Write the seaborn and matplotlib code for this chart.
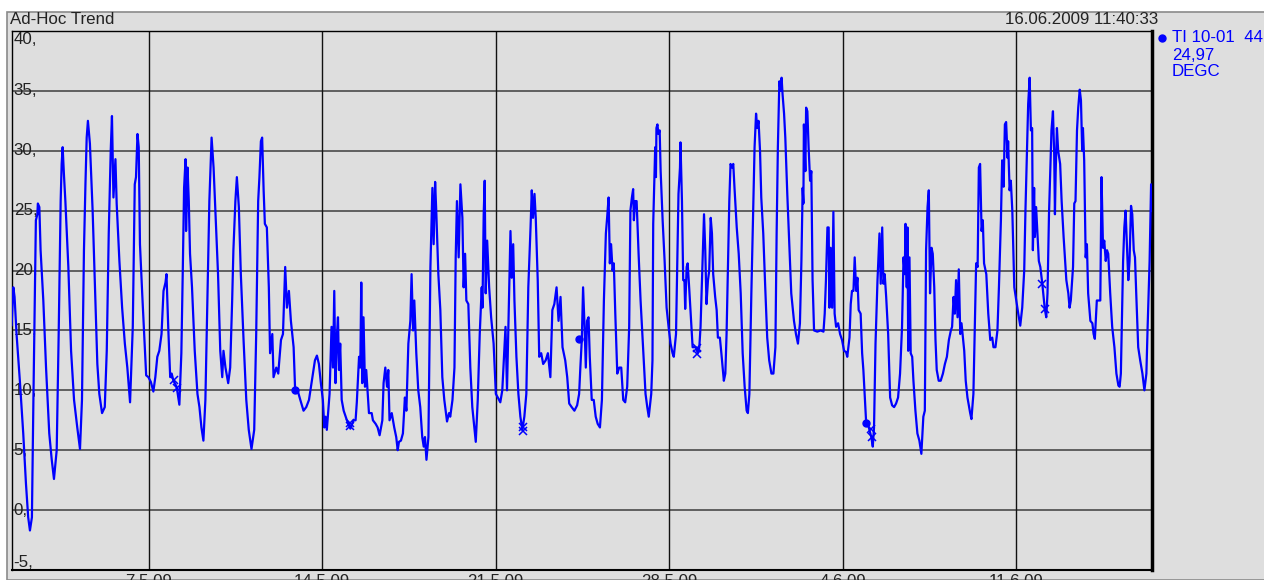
import numpy as np
import pandas as pd
import seaborn as sns
from matplotlib import pyplot as plt
import matplotlib.patches as mpatches

# Trend data: time as days since 2009-05-01 00:00, temperature in DEGC
days = [0.47, 0.54, 0.59, 0.67, 0.81, 0.94, 1.05, 1.14, 1.21, 1.29, 1.35, 1.40, 1.45, 1.51, 1.53, 1.59, 1.64, 1.75, 1.86, 1.99,
        2.09, 2.18, 2.29, 2.37, 2.45, 2.49, 2.53, 2.58, 2.64, 2.76, 2.87, 2.99, 3.12, 3.23, 3.31, 3.39, 3.45, 3.50, 3.55, 3.63,
        3.74, 3.85, 3.93, 4.01, 4.12, 4.23, 4.31, 4.39, 4.47, 4.52, 4.58, 4.66, 4.71, 4.82, 4.93, 5.04, 5.14, 5.25, 5.36, 5.44,
        5.49, 5.55, 5.60, 5.65, 5.74, 5.82, 5.90, 5.99, 6.09, 6.19, 6.27, 6.35, 6.43, 6.52, 6.60, 6.68, 6.72, 6.79, 6.87, 6.93,
        7.00, 7.13, 7.24, 7.32, 7.38, 7.43, 7.49, 7.51, 7.57, 7.62, 7.67, 7.75, 7.86, 7.97, 8.05, 8.13, 8.21, 8.29, 8.37, 8.45,
        8.54, 8.62, 8.70, 8.80, 8.89, 8.97, 9.02, 9.10, 9.21, 9.29, 9.37, 9.42, 9.50, 9.56, 9.64, 9.72, 9.83, 9.94, 10.04, 10.15,
        10.26, 10.34, 10.42, 10.47, 10.53, 10.58, 10.64, 10.69, 10.77, 10.85, 10.90, 10.99, 11.04, 11.15, 11.23, 11.34, 11.42, 11.51, 11.58, 11.66,
        11.74, 11.85, 11.91, 12.01, 12.12, 12.25, 12.36, 12.47, 12.55, 12.63, 12.71, 12.79, 12.87, 12.95, 13.03, 13.09, 13.14, 13.19, 13.30, 13.38,
        13.44, 13.49, 13.54, 13.60, 13.64, 13.68, 13.73, 13.79, 13.87, 14.00, 14.14, 14.27, 14.35, 14.40, 14.49, 14.54, 14.58, 14.62, 14.67, 14.73,
        14.78, 14.89, 15.00, 15.05, 15.16, 15.24, 15.32, 15.43, 15.48, 15.55, 15.62, 15.67, 15.72, 15.81, 15.91, 15.99, 16.05, 16.10, 16.18, 16.26,
        16.34, 16.40, 16.48, 16.56, 16.61, 16.67, 16.72, 16.80, 16.88, 16.96, 17.04, 17.10, 17.15, 17.21, 17.29, 17.37, 17.45, 17.50, 17.56, 17.61,
        17.69, 17.77, 17.85, 17.93, 18.04, 18.12, 18.17, 18.26, 18.34, 18.39, 18.44, 18.51, 18.58, 18.66, 18.71, 18.77, 18.82, 18.90, 18.98, 19.06,
        19.20, 19.28, 19.36, 19.44, 19.47, 19.52, 19.56, 19.60, 19.66, 19.74, 19.82, 19.92, 20.01, 20.09, 20.19, 20.27, 20.33, 20.40, 20.46, 20.54,
        20.60, 20.65, 20.71, 20.76, 20.84, 20.92, 21.00, 21.08, 21.16, 21.24, 21.32, 21.41, 21.46, 21.51, 21.57, 21.62, 21.70, 21.76, 21.84, 21.92,
        22.02, 22.11, 22.21, 22.29, 22.37, 22.46, 22.54, 22.62, 22.70, 22.81, 22.89, 22.97, 23.07, 23.18, 23.29, 23.37, 23.42, 23.48, 23.53, 23.59,
        23.64, 23.69, 23.75, 23.80, 23.88, 23.96, 24.04, 24.12, 24.21, 24.29, 24.37, 24.45, 24.50, 24.56, 24.61, 24.66, 24.72, 24.77, 24.83, 24.91,
        24.99, 25.07, 25.15, 25.23, 25.31, 25.39, 25.44, 25.50, 25.55, 25.58, 25.63, 25.69, 25.77, 25.85, 25.98, 26.05, 26.12, 26.18, 26.28, 26.33,
        26.36, 26.41, 26.44, 26.47, 26.49, 26.53, 26.57, 26.62, 26.66, 26.74, 26.82, 26.90, 26.98, 27.06, 27.14, 27.19, 27.28, 27.33, 27.38, 27.44,
        27.46, 27.52, 27.57, 27.62, 27.65, 27.71, 27.75, 27.81, 27.87, 27.95, 28.08, 28.16, 28.22, 28.27, 28.35, 28.41, 28.46, 28.51, 28.57, 28.62,
        28.68, 28.73, 28.78, 28.86, 28.92, 28.97, 29.05, 29.11, 29.16, 29.21, 29.27, 29.32, 29.38, 29.43, 29.48, 29.54, 29.59, 29.64, 29.73, 29.81,
        29.89, 29.97, 30.05, 30.13, 30.18, 30.24, 30.32, 30.40, 30.45, 30.51, 30.56, 30.61, 30.67, 30.72, 30.80, 30.88, 30.96, 31.04, 31.13, 31.21,
        31.29, 31.34, 31.39, 31.45, 31.50, 31.54, 31.58, 31.64, 31.69, 31.77, 31.85, 31.93, 32.04, 32.12, 32.20, 32.28, 32.34, 32.39, 32.42, 32.44,
        32.50, 32.53, 32.58, 32.63, 32.69, 32.74, 32.79, 32.85, 32.98, 33.12, 33.23, 33.28, 33.33, 33.39, 33.44, 33.47, 33.52, 33.58, 33.63, 33.68,
        33.74, 33.82, 33.90, 33.98, 34.06, 34.14, 34.19, 34.28, 34.33, 34.38, 34.44, 34.49, 34.55, 34.60, 34.65, 34.73, 34.79, 34.84, 34.89, 34.95,
        35.06, 35.16, 35.22, 35.27, 35.33, 35.41, 35.49, 35.54, 35.60, 35.65, 35.70, 35.76, 35.84, 35.92, 36.00, 36.08, 36.16, 36.24, 36.32, 36.40,
        36.46, 36.51, 36.54, 36.59, 36.62, 36.65, 36.70, 36.75, 36.81, 36.86, 36.94, 37.02, 37.10, 37.18, 37.26, 37.32, 37.37, 37.43, 37.48, 37.53,
        37.59, 37.64, 37.70, 37.75, 37.80, 37.88, 37.96, 38.05, 38.13, 38.21, 38.29, 38.37, 38.42, 38.48, 38.53, 38.58, 38.64, 38.69, 38.75, 38.80,
        38.91, 38.97, 39.04, 39.15, 39.20, 39.28, 39.34, 39.39, 39.45, 39.50, 39.55, 39.61, 39.66, 39.71, 39.80, 39.88, 39.96, 40.04, 40.09, 40.17,
        40.25, 40.31, 40.39, 40.44, 40.50, 40.55, 40.60, 40.66, 40.68, 40.74, 40.79, 40.85, 40.93, 41.01, 41.09, 41.17, 41.25, 41.33, 41.38, 41.44,
        41.49, 41.55, 41.60, 41.65, 41.68, 41.73, 41.76, 41.81, 41.87, 41.92, 41.98, 42.06, 42.16, 42.22, 42.27, 42.33, 42.38, 42.43, 42.49, 42.54,
        42.57, 42.60, 42.65, 42.70, 42.78, 42.84, 42.92, 43.03, 43.11, 43.16, 43.21, 43.30, 43.35, 43.40, 43.46, 43.51, 43.57, 43.62, 43.67, 43.70,
        43.75, 43.81, 43.86, 43.91, 44.00, 44.08, 44.13, 44.18, 44.26, 44.40, 44.45, 44.51, 44.56, 44.62, 44.67, 44.72, 44.80, 44.88, 44.97, 45.05,
        45.13, 45.18, 45.23, 45.32, 45.37, 45.42, 45.48, 45.53, 45.58, 45.64, 45.69, 45.75, 45.80, 45.85, 45.93, 46.01, 46.10, 46.18, 46.26, 46.31,
        46.39, 46.45, 46.48]
temps = [15.4, 18.6, 17.8, 14.7, 10.6, 6.4, 2.2, -0.6, -1.7, -0.6, 9.2, 16.4, 24.2, 24.7, 25.6, 25.3, 21.7, 17.5, 11.9, 6.4,
         4.2, 2.6, 5.0, 14.7, 25.8, 28.9, 30.3, 28.1, 25.8, 20.3, 13.3, 9.2, 6.9, 5.1, 9.2, 21.7, 27.2, 31.1, 32.5, 30.6,
         25.0, 17.5, 12.2, 9.7, 8.1, 8.6, 13.3, 23.1, 30.0, 32.9, 26.1, 29.3, 25.6, 20.8, 16.9, 13.9, 11.9, 9.0, 15.3, 27.2,
         27.8, 31.4, 30.3, 22.2, 18.1, 14.7, 11.25, 11.1, 10.7, 9.9, 11.1, 12.8, 13.3, 14.7, 18.3, 19.0, 19.7, 15.3, 11.1, 11.4,
         10.8, 10.3, 8.8, 13.1, 20.3, 26.9, 29.3, 23.3, 28.6, 25.8, 21.4, 18.6, 13.3, 9.7, 8.6, 6.9, 5.8, 9.2, 17.5, 25.8,
         31.1, 28.6, 24.7, 19.7, 13.3, 11.1, 13.3, 11.9, 10.6, 11.9, 17.5, 21.7, 25.8, 27.8, 25.3, 19.7, 14.2, 9.2, 6.7, 5.1,
         6.7, 14.7, 25.8, 27.8, 30.8, 31.1, 26.7, 23.9, 23.6, 18.6, 13.1, 14.7, 11.1, 11.9, 11.4, 14.2, 14.7, 20.3, 16.9, 18.3,
         15.8, 13.6, 10.1, 10.0, 9.2, 8.3, 8.6, 9.2, 10.3, 11.4, 12.5, 12.9, 12.2, 10.6, 9.2, 6.9, 7.8, 6.7, 9.7, 15.3,
         11.9, 18.3, 10.6, 14.7, 16.1, 11.7, 13.9, 9.2, 8.3, 7.5, 6.8, 7.5, 7.5, 9.0, 12.8, 11.9, 19.0, 10.6, 16.1, 10.3,
         11.7, 8.1, 8.1, 7.5, 7.2, 6.9, 6.25, 7.5, 10.6, 11.9, 10.3, 11.7, 7.5, 8.1, 6.9, 6.1, 5.0, 5.7, 5.8, 6.4,
         9.4, 8.3, 13.9, 15.8, 19.7, 15.0, 17.5, 13.1, 10.0, 8.6, 6.1, 5.3, 6.1, 4.2, 6.1, 20.3, 26.9, 22.2, 27.4, 24.7,
         19.7, 16.7, 11.1, 9.2, 7.4, 8.1, 7.8, 9.2, 11.9, 21.1, 25.8, 21.1, 27.2, 24.4, 18.6, 21.4, 17.5, 17.2, 11.9, 8.6,
         5.7, 9.2, 14.7, 18.6, 16.9, 24.7, 27.5, 18.1, 22.5, 18.6, 16.1, 13.9, 9.7, 9.4, 9.0, 10.0, 12.5, 15.3, 10.0, 17.5,
         23.3, 19.4, 22.2, 17.5, 12.8, 9.7, 7.8, 6.7, 7.8, 9.7, 18.6, 23.6, 26.7, 24.4, 26.4, 24.4, 19.2, 12.8, 13.1, 12.2,
         12.5, 13.1, 11.1, 16.7, 17.2, 18.6, 15.8, 17.8, 13.6, 12.5, 11.1, 8.9, 8.6, 8.3, 8.75, 9.7, 11.9, 14.3, 18.6, 15.3,
         11.9, 15.8, 16.1, 12.8, 9.2, 9.2, 7.8, 7.2, 6.9, 9.2, 17.5, 23.1, 24.4, 26.1, 20.6, 22.2, 20.0, 20.6, 16.4, 11.4,
         11.9, 11.9, 9.2, 9.0, 10.3, 15.3, 25.0, 26.1, 26.8, 24.2, 25.8, 25.8, 21.4, 17.5, 12.5, 9.7, 8.6, 7.8, 9.7, 12.5,
         23.9, 27.8, 30.3, 27.8, 31.9, 32.2, 31.4, 31.7, 28.3, 24.2, 20.8, 16.9, 15.3, 13.9, 13.1, 12.8, 14.7, 20.8, 26.4, 28.6,
         30.7, 25.8, 19.2, 19.2, 16.8, 20.3, 20.6, 18.6, 16.4, 13.6, 13.6, 13.1, 13.6, 15.3, 20.8, 24.7, 21.7, 17.2, 19.2, 20.0,
         24.4, 23.1, 19.7, 17.8, 16.7, 14.4, 14.4, 13.1, 11.9, 10.8, 11.4, 14.7, 20.8, 25.8, 28.9, 28.6, 28.9, 26.9, 23.6, 21.4,
         18.1, 13.1, 10.3, 8.3, 8.1, 9.7, 18.1, 25.8, 30.3, 33.1, 31.9, 32.5, 30.0, 26.1, 23.1, 18.6, 14.4, 12.5, 11.4, 11.4,
         13.6, 23.1, 30.3, 35.8, 35.0, 36.1, 34.7, 33.1, 31.1, 26.4, 22.2, 18.1, 15.8, 14.7, 13.9, 15.6, 20.8, 26.9, 25.6, 32.2,
         28.3, 33.6, 33.3, 30.3, 27.5, 28.3, 19.2, 15.0, 14.9, 15.0, 14.9, 16.4, 19.2, 23.6, 23.6, 16.9, 21.9, 16.9, 24.9, 16.4,
         15.3, 15.6, 14.7, 14.2, 13.3, 13.2, 12.8, 14.4, 17.2, 18.3, 18.3, 21.1, 18.3, 19.4, 16.7, 16.4, 13.1, 11.7, 9.7, 7.4,
         6.9, 6.1, 5.3, 6.9, 13.9, 19.2, 23.1, 18.9, 23.6, 18.9, 19.7, 17.8, 14.7, 9.4, 8.75, 8.6, 8.9, 9.4, 11.4, 15.3,
         21.1, 19.7, 23.9, 18.6, 23.6, 13.3, 21.1, 13.1, 12.8, 10.8, 8.3, 6.4, 5.8, 4.7, 7.8, 8.3, 21.7, 25.3, 26.7, 18.1,
         21.9, 21.4, 18.6, 14.2, 11.7, 10.8, 10.8, 11.4, 12.2, 12.8, 14.2, 15.0, 15.3, 17.8, 16.4, 19.2, 16.1, 20.1, 14.7, 15.6,
         13.3, 10.8, 9.4, 8.1, 7.6, 9.7, 15.8, 20.6, 20.3, 28.6, 28.9, 23.3, 24.2, 20.6, 19.7, 16.4, 14.2, 14.4, 13.6, 13.6,
         15.0, 18.6, 24.2, 29.2, 27.0, 32.2, 32.4, 29.4, 30.8, 26.7, 27.5, 25.0, 18.6, 17.5, 16.4, 15.4, 16.9, 20.0, 25.0, 29.7,
         33.9, 36.1, 31.7, 31.9, 21.7, 26.9, 22.8, 25.3, 22.8, 20.8, 20.3, 18.9, 16.8, 16.1, 18.1, 24.7, 28.3, 31.7, 33.3, 29.7,
         24.7, 28.3, 31.9, 30.0, 28.9, 25.8, 22.8, 19.2, 18.1, 16.9, 17.5, 20.3, 25.6, 25.8, 31.7, 33.6, 35.1, 34.2, 30.0, 31.9,
         29.2, 21.1, 22.2, 18.1, 15.8, 15.6, 14.7, 14.3, 17.5, 17.5, 27.8, 21.9, 22.5, 20.8, 21.7, 21.4, 18.1, 15.3, 13.6, 11.4,
         10.4, 10.3, 11.4, 20.8, 23.6, 25.0, 21.9, 19.2, 20.8, 25.4, 24.7, 21.7, 21.1, 18.1, 13.6, 12.5, 11.4, 10.0, 11.4, 15.3,
         20.8, 27.2, 24.97]

# Event markers (x) and annotation dots
event_days = [7.03, 7.15, 14.14, 14.14, 21.12, 21.12, 28.11, 28.11, 35.14, 35.18, 42.04, 42.16]
event_vals = [10.9, 10.2, 7.0, 7.3, 6.6, 6.9, 13.0, 13.5, 6.8, 6.1, 18.9, 16.8]
dot_days = [11.91, 23.38, 34.94]
dot_vals = [10.0, 14.3, 7.3]

tick_dates = ["2009-05-07", "2009-05-14", "2009-05-21", "2009-05-28", "2009-06-04", "2009-06-11"]
tick_labels = ["7.5.09", "14.5.09", "21.5.09", "28.5.09", "4.6.09", "11.6.09"]
y_ticks = [40, 35, 30, 25, 20, 15, 10, 5, 0, -5]

base = pd.Timestamp("2009-05-01")
df = pd.DataFrame({"time": base + pd.to_timedelta(days, unit="D"), "temp": temps})
ev = pd.DataFrame({"time": base + pd.to_timedelta(event_days, unit="D"), "temp": event_vals})
dots = pd.DataFrame({"time": base + pd.to_timedelta(dot_days, unit="D"), "temp": dot_vals})

sns.set_theme(style="white")
plt.rcParams['font.family'] = ['Liberation Sans', 'DejaVu Sans']

panel = '#DEDEDE'
blue = '#0000FF'
fs = 12.2

fig = plt.figure(figsize=(12.64, 5.8), dpi=100, facecolor='white')

# Gray panel behind everything
fig.patches.append(mpatches.Rectangle((7/1264, 0), 1.0, 568/580, transform=fig.transFigure,
                                      facecolor=panel, edgecolor='#8a8a8a', linewidth=1.2, zorder=-5))

ax = fig.add_axes([12/1264, 10/580, 1140/1264, 539/580])
ax.set_facecolor(panel)

# Trend line
sns.lineplot(data=df, x="time", y="temp", ax=ax, color=blue, linewidth=1.6, estimator=None, sort=False, zorder=3)
ax.plot(ev["time"], ev["temp"], linestyle='none', marker='x', markersize=6, markeredgewidth=1.1, color=blue, zorder=4)
ax.plot(dots["time"], dots["temp"], linestyle='none', marker='o', markersize=5, color=blue, zorder=4)

# Axes limits and grid
ax.set_xlim(pd.Timestamp("2009-05-01 11:40:33"), pd.Timestamp("2009-06-16 11:40:33"))
ax.set_ylim(-5, 40)
for v in y_ticks:
    ax.axhline(v, color='#555555', linewidth=1.3, zorder=1)
for t in tick_dates:
    ax.axvline(pd.Timestamp(t), color='#111111', linewidth=1.0, zorder=1)

ax.set_xticks([pd.Timestamp(t) for t in tick_dates])
ax.set_xticklabels(tick_labels, fontsize=fs, color='#222222')
ax.tick_params(axis='x', length=0, pad=3)
ax.set_yticks([])
ax.set_xlabel('')
ax.set_ylabel('')

# Y labels drawn inside the plot area
for v in y_ticks:
    yy = min(max(v, -4.35), 39.25)
    ax.text(0.0015, yy, f'{v},', transform=ax.get_yaxis_transform(), ha='left', va='center',
            fontsize=fs, color='#222222', zorder=2)

for side in ['left', 'top', 'bottom', 'right']:
    ax.spines[side].set_visible(True)
    ax.spines[side].set_color('black')
ax.spines['left'].set_linewidth(1.0)
ax.spines['top'].set_linewidth(1.0)
ax.spines['bottom'].set_linewidth(1.5)
ax.spines['right'].set_linewidth(2.5)

# Header texts
fig.text(10/1264, 1 - 20/580, 'Ad-Hoc Trend', ha='left', va='center', fontsize=fs, color='#222222')
fig.text(1158/1264, 1 - 20/580, '16.06.2009 11:40:33', ha='right', va='center', fontsize=fs, color='#222222')

# Legend block at the right
ax.plot([1162/1264], [1 - 38/580], marker='o', markersize=5, color=blue, transform=fig.transFigure, clip_on=False)
fig.text(1172/1264, 1 - 38/580, 'TI 10-01  44', ha='left', va='center', fontsize=fs, color=blue)
fig.text(1172/1264, 1 - 55/580, '24,97', ha='left', va='center', fontsize=fs, color=blue)
fig.text(1172/1264, 1 - 72/580, 'DEGC', ha='left', va='center', fontsize=fs, color=blue)

plt.savefig('out.png', dpi=100, facecolor='white')
